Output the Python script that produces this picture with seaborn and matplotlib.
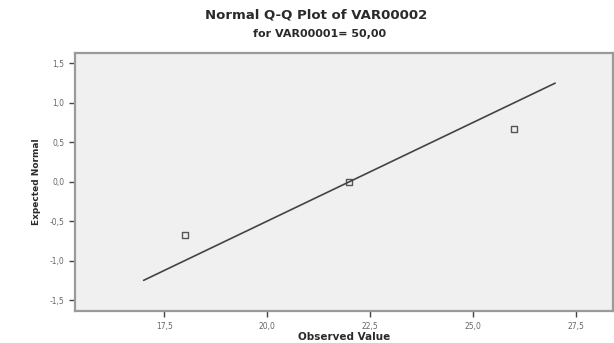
import numpy as np
import pandas as pd
import matplotlib
matplotlib.use("Agg")
import matplotlib.pyplot as plt
import seaborn as sns

# Q-Q data
observed = [18.0, 22.0, 26.0]
expected = [-0.674, 0.0, 0.674]
line_x = [17.0, 27.0]
line_y = [-1.25, 1.25]

x_ticks = [17.5, 20.0, 22.5, 25.0, 27.5]
y_ticks = [-1.5, -1.0, -0.5, 0.0, 0.5, 1.0, 1.5]

points = pd.DataFrame({"observed": observed, "expected": expected})
ref = pd.DataFrame({"x": line_x, "y": line_y})

sns.set_style("white")
plt.rcParams['font.family'] = ['DejaVu Sans']

fig = plt.figure(figsize=(6.14, 3.43), dpi=100)
ax = fig.add_axes([0.122, 0.093, 0.876, 0.752])
ax.set_facecolor("#f0f0f0")

sns.lineplot(data=ref, x="x", y="y", color="#444444", linewidth=1.2, ax=ax)
sns.scatterplot(data=points, x="observed", y="expected", marker="s", s=18,
                facecolor="none", edgecolor="#555555", linewidth=1.0, ax=ax)

ax.set_xlim(15.33, 28.4)
ax.set_ylim(-1.64, 1.63)
ax.set_xticks(x_ticks)
ax.set_yticks(y_ticks)
ax.set_xticklabels([f"{v:.1f}".replace(".", ",") for v in x_ticks])
ax.set_yticklabels([f"{v:.1f}".replace(".", ",") for v in y_ticks])
ax.tick_params(axis="both", direction="out", length=4, width=1, color="#444444",
               labelsize=5.5, labelcolor="#666666", bottom=True, left=True)

for side in ["left", "bottom", "top", "right"]:
    ax.spines[side].set_color("#9a9a9a")
    ax.spines[side].set_linewidth(1.6)

ax.set_xlabel("Observed Value", fontsize=7.5, fontweight="bold", color="#2a2a2a", labelpad=1)
ax.set_ylabel("Expected Normal", fontsize=6.5, fontweight="bold", color="#2a2a2a", labelpad=6)

fig.text(0.515, 0.955, "Normal Q-Q Plot of VAR00002", ha="center", va="center",
         fontsize=9.5, fontweight="bold", color="#2a2a2a")
fig.text(0.52, 0.9, "for VAR00001= 50,00", ha="center", va="center",
         fontsize=8, fontweight="bold", color="#2a2a2a")

fig.savefig("out.png", dpi=100, facecolor="white")
